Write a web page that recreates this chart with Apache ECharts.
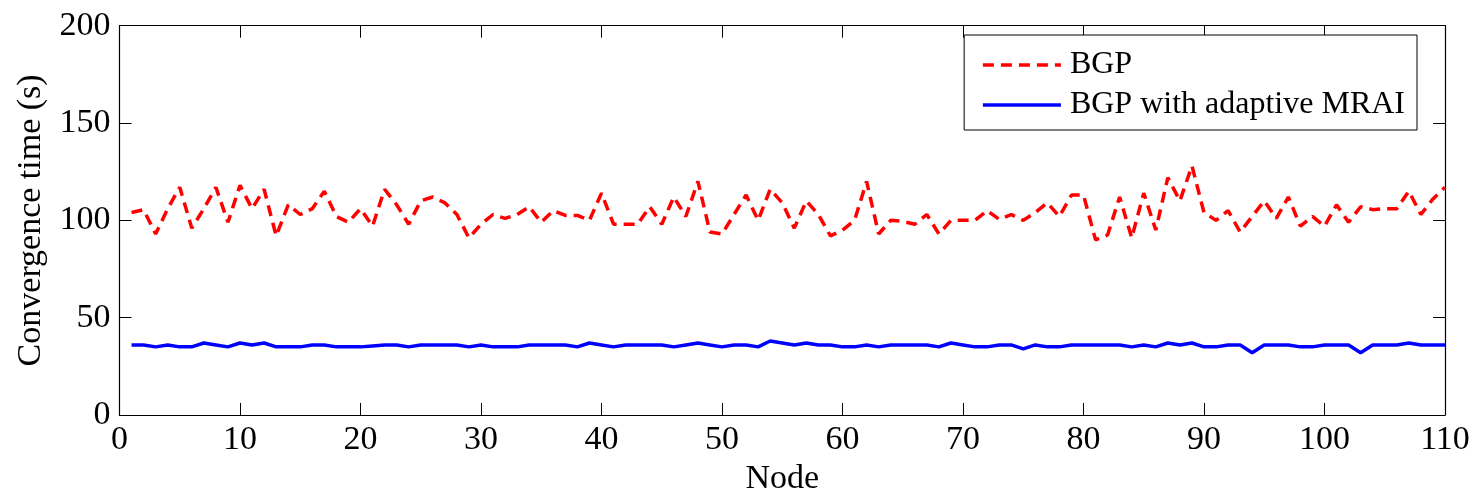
<!DOCTYPE html>
<html>
<head>
<meta charset="utf-8">
<script src="https://cdn.jsdelivr.net/npm/echarts@6/dist/echarts.min.js"></script>
<style>
html,body{margin:0;padding:0;background:#fff;}
#chart{width:1479px;height:493px;}
</style>
</head>
<body>
<div id="chart"></div>
<script>
const nodes = [1,2,3,4,5,6,7,8,9,10,11,12,13,14,15,16,17,18,19,20,
21,22,23,24,25,26,27,28,29,30,31,32,33,34,35,36,37,38,39,40,
41,42,43,44,45,46,47,48,49,50,51,52,53,54,55,56,57,58,59,60,
61,62,63,64,65,66,67,68,69,70,71,72,73,74,75,76,77,78,79,80,
81,82,83,84,85,86,87,88,89,90,91,92,93,94,95,96,97,98,99,100,
101,102,103,104,105,106,107,108,109,110];

const bgp = [104,105.5,93,106,117,96,106,117,99,118,
106,116,92,108,103,106,115,102,99,106,
97,116,108,98,110,112,109,103,91,98,
103,101,103,107,99,105,102.5,102.5,100,114,
98,98,98,107,98,112,102,120,94,93,
103,113,100,116,109,96,110,103,92,95,
100,120,93,100,99.5,98,103,93,100,100,
100,105,100.5,103,100,104,109,102,113,113,
90,92.5,112,91,114,95,122,110,128,104,
100,105,94,102,110,101,112,97,102,97,
108,99,107,105.5,106,106,115,103,111,117];

const adaptive = [36,36,35,36,35,35,37,36,35,37,
36,37,35,35,35,36,36,35,35,35,
35.5,36,36,35,36,36,36,36,35,36,
35,35,35,36,36,36,36,35,37,36,
35,36,36,36,36,35,36,37,36,35,
36,36,35,38,37,36,37,36,36,35,
35,36,35,36,36,36,36,35,37,36,
35,35,36,36,34,36,35,35,36,36,
36,36,36,35,36,35,37,36,37,35,
35,36,36,32,36,36,36,35,35,36,
36,36,32,36,36,36,37,36,36,36];

const xTicks = [0,10,20,30,40,50,60,70,80,90,100,110];
const yTicks = [0,50,100,150,200];
const seriesNames = ['BGP', 'BGP with adaptive MRAI'];
const seriesColors = ['#ff0000', '#0000ff'];
const dashBGP = [11, 7];

const font = '"Liberation Serif", "Times New Roman", serif';
const chart = echarts.init(document.getElementById('chart'), null, {renderer: 'canvas'});

function axisCommon() {
  return {
    axisLine: {show: true, onZero: false, lineStyle: {color: '#000', width: 1.2}},
    axisTick: {show: true, inside: true, length: 12, lineStyle: {color: '#000', width: 1}},
    splitLine: {show: false}
  };
}

chart.setOption({
  animation: false,
  backgroundColor: '#fff',
  grid: {left: 119.5, right: 34, top: 25.7, bottom: 78, containLabel: false, outerBoundsMode: 'none'},
  legend: {
    orient: 'vertical',
    right: 62,
    top: 35,
    padding: [14, 12, 9, 17],
    itemGap: 8,
    itemWidth: 78,
    itemHeight: 32,
    borderColor: '#000',
    borderWidth: 1,
    backgroundColor: '#fff',
    itemStyle: {opacity: 0},
    textStyle: {fontFamily: font, fontSize: 32, color: '#000', padding: [0, 0, 0, 4]},
    data: [
      {name: seriesNames[0], itemStyle: {opacity: 0},
       lineStyle: {color: seriesColors[0], width: 3.5, type: dashBGP, opacity: 1}},
      {name: seriesNames[1], itemStyle: {opacity: 0},
       lineStyle: {color: seriesColors[1], width: 3.5, type: 'solid', opacity: 1}}
    ],
    selectedMode: false
  },
  xAxis: [
    Object.assign({
      type: 'value', min: 0, max: 110, interval: 10, position: 'bottom',
      name: 'Node', nameLocation: 'middle', nameGap: 46,
      nameTextStyle: {fontFamily: font, fontSize: 34, color: '#000'},
      axisLabel: {fontFamily: font, fontSize: 34, color: '#000', margin: 8,
        formatter: v => xTicks.includes(v) ? String(v) : ''}
    }, axisCommon()),
    Object.assign({
      type: 'value', min: 0, max: 110, interval: 10, position: 'top',
      axisLabel: {show: false}
    }, axisCommon())
  ],
  yAxis: [
    Object.assign({
      type: 'value', min: 0, max: 200, interval: 50, position: 'left',
      name: 'Convergence time (s)', nameLocation: 'middle', nameGap: 71,
      nameTextStyle: {fontFamily: font, fontSize: 34, color: '#000'},
      axisLabel: {fontFamily: font, fontSize: 34, color: '#000', margin: 9,
        formatter: v => yTicks.includes(v) ? String(v) : ''}
    }, axisCommon()),
    Object.assign({
      type: 'value', min: 0, max: 200, interval: 50, position: 'right',
      axisLabel: {show: false}
    }, axisCommon())
  ],
  series: [
    {
      name: seriesNames[0], type: 'line', xAxisIndex: 0, yAxisIndex: 0,
      data: nodes.map((n, i) => [n, bgp[i]]),
      showSymbol: false, symbol: 'none',
      lineStyle: {color: seriesColors[0], width: 3.5, type: dashBGP},
      itemStyle: {color: seriesColors[0]}
    },
    {
      name: seriesNames[1], type: 'line', xAxisIndex: 0, yAxisIndex: 0,
      data: nodes.map((n, i) => [n, adaptive[i]]),
      showSymbol: false, symbol: 'none',
      lineStyle: {color: seriesColors[1], width: 3.5, type: 'solid'},
      itemStyle: {color: seriesColors[1]}
    }
  ]
});
</script>
</body>
</html>
